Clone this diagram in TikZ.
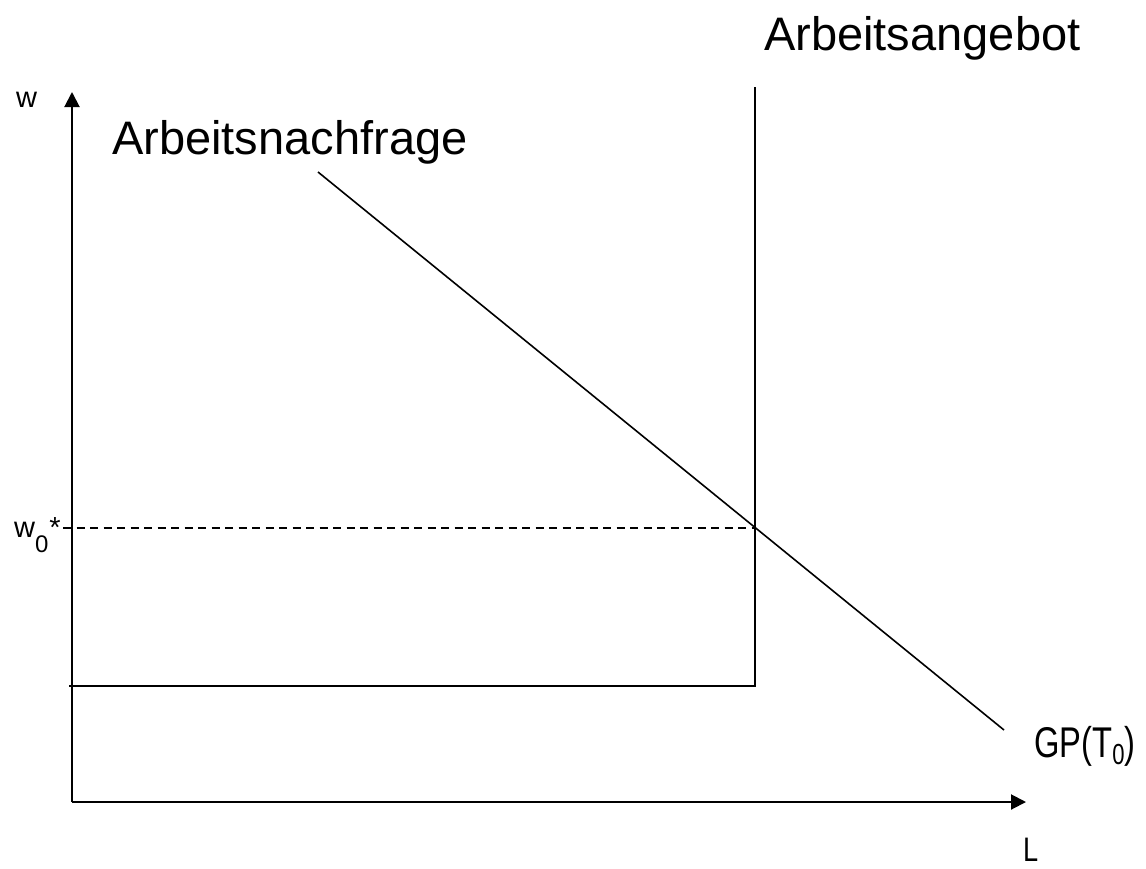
\documentclass[tikz,border=0pt]{standalone}
\usepackage{fontspec}
\setmainfont{Liberation Sans}
\usetikzlibrary{arrows.meta}
\begin{document}
\begin{tikzpicture}[x=1pt,y=-1pt,
  curve/.style={line width=1.6pt},
  axis/.style={line width=2pt,-{Triangle[length=15pt,width=15pt]}},
  dashline/.style={line width=1.6pt,dash pattern=on 8pt off 5.5pt},
  biglabel/.style={inner sep=0pt,anchor=base west,font=\fontsize{47}{56}\selectfont},
  smalllabel/.style={inner sep=0pt,anchor=base west,font=\fontsize{29}{34}\selectfont},
  narrowlabel/.style={inner sep=0pt,anchor=base west,font=\fontsize{43}{50}\selectfont}]
\useasboundingbox (0,0) rectangle (1146,868);
% coordinates
\coordinate (O) at (72,802);
\coordinate (ytip) at (72,92);
\coordinate (xtip) at (1026,802);
\coordinate (Lleft) at (69,686);
\coordinate (Lcorner) at (755,686);
\coordinate (Stop) at (755,87);
\coordinate (E) at (755,528);
\coordinate (W0) at (63,528);
\coordinate (Dtop) at (318,172);
\coordinate (Dbot) at (1004,730);
% axes
\draw[axis] (O) -- (ytip);
\draw[axis] (O) -- (xtip);
% supply
\draw[curve] (Lleft) -- (Lcorner) -- (Stop);
% demand
\draw[curve] (Dtop) -- (Dbot);
% equilibrium wage
\draw[dashline] (W0) -- (E);
% labels
\node[biglabel] (supply) at (764,50) {Arbeitsangebot};
\node[biglabel] (demand) at (112,154) {Arbeitsnachfrage};
\node[smalllabel] (wlab) at (16,107) {w};
\node[smalllabel] (w0lab) at (14,537) {w\raisebox{-15pt}{\fontsize{24}{28}\selectfont 0}\hspace{1pt}*};
\node[narrowlabel] (gplab) at (1034,757) {\scalebox{0.76}[1]{GP(T\raisebox{-7pt}{\fontsize{29}{32}\selectfont 0})}};
\node[inner sep=0pt,anchor=base west,font=\fontsize{34}{40}\selectfont] (llab) at (1023,861) {\scalebox{0.8}[1]{L}};
\end{tikzpicture}
\end{document}
